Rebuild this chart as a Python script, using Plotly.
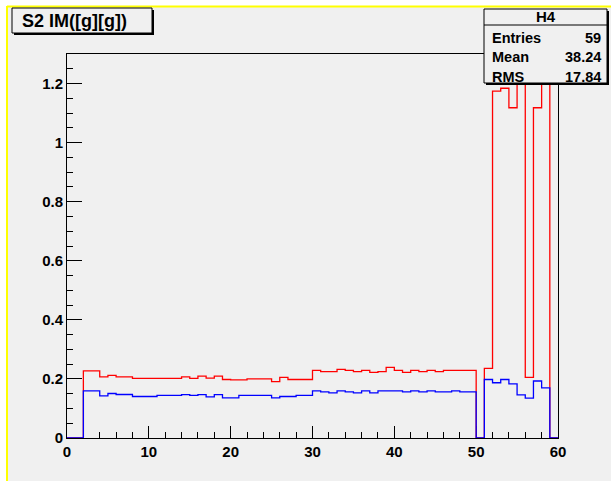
import numpy as np
import plotly.graph_objects as go

# ---- data (60 bins of width 1 on [0, 60]) ----
red_values = [
    0, 0, 0.227, 0.227, 0.207, 0.212, 0.207, 0.207, 0.2016, 0.2016,
    0.2016, 0.2016, 0.2016, 0.2016, 0.207, 0.2016, 0.2094, 0.2026, 0.2094, 0.198,
    0.197, 0.197, 0.200, 0.200, 0.200, 0.191, 0.205, 0.198, 0.198, 0.198,
    0.229, 0.225, 0.225, 0.232, 0.229, 0.225, 0.229, 0.222, 0.225, 0.239,
    0.229, 0.222, 0.229, 0.225, 0.229, 0.225, 0.229, 0.229, 0.229, 0.229,
    0, 0.2356, 1.174, 1.184, 1.118, 1.5, 0.205, 1.118, 1.5, 0,
]
blue_values = [
    0, 0, 0.1595, 0.1595, 0.1426, 0.1507, 0.1473, 0.1473, 0.1405, 0.1405,
    0.1405, 0.144, 0.144, 0.144, 0.147, 0.144, 0.147, 0.139, 0.147, 0.136,
    0.136, 0.144, 0.144, 0.144, 0.144, 0.136, 0.1405, 0.1405, 0.144, 0.144,
    0.1595, 0.156, 0.153, 0.1595, 0.156, 0.153, 0.1595, 0.153, 0.1595, 0.1595,
    0.1595, 0.156, 0.1595, 0.156, 0.1595, 0.156, 0.156, 0.1595, 0.156, 0.156,
    0, 0.198, 0.187, 0.198, 0.183, 0.146, 0.135, 0.193, 0.170, 0,
]
x_min, x_max = 0, 60
y_min, y_max = 0, 1.3
x_ticks = [0, 10, 20, 30, 40, 50, 60]
y_ticks = [0, 0.2, 0.4, 0.6, 0.8, 1.0, 1.2]
y_tick_text = ["0", "0.2", "0.4", "0.6", "0.8", "1", "1.2"]
title_text = "S2 IM([g][g])"
stats_name = "H4"
stats_labels = ["Entries", "Mean", "RMS"]
stats_values = ["59", "38.24", "17.84"]

W, H = 611, 481
L, R, T, B = 67, 558, 54, 438
BG = "#f0f0f0"
FONT = "Liberation Sans, Arial, Helvetica, sans-serif"


def px(x):
    return (x - L) / (R - L)


def py(y):
    return (B - y) / (B - T)


edges = np.arange(x_min, x_max + 1)

fig = go.Figure()
for vals, col in [(red_values, "#ff0000"), (blue_values, "#0000ff")]:
    yy = list(vals) + [vals[-1]]
    fig.add_trace(go.Scatter(x=edges, y=yy, mode="lines", line_shape="hv",
                             line=dict(color=col, width=1.3), showlegend=False,
                             hoverinfo="skip", cliponaxis=False if False else True))

shapes = []
# white outside the yellow border
shapes.append(dict(type="rect", xref="paper", yref="paper", x0=px(0), x1=px(W),
                   y0=py(0), y1=py(6), fillcolor="white", line_width=0, layer="above"))
shapes.append(dict(type="rect", xref="paper", yref="paper", x0=px(0), x1=px(6),
                   y0=py(0), y1=py(H), fillcolor="white", line_width=0, layer="above"))
# yellow border lines
shapes.append(dict(type="line", xref="paper", yref="paper", x0=px(7), x1=px(W),
                   y0=py(6.5), y1=py(6.5), line=dict(color="#ffff00", width=2), layer="above"))
shapes.append(dict(type="line", xref="paper", yref="paper", x0=px(7), x1=px(7),
                   y0=py(6), y1=py(H), line=dict(color="#ffff00", width=2), layer="above"))


def box(x0, y0, x1, y1):
    # shadow
    shapes.append(dict(type="rect", xref="paper", yref="paper", x0=px(x0 + 2), x1=px(x1 + 2),
                       y0=py(y0 + 2), y1=py(y1 + 2), fillcolor="black", line_width=0, layer="above"))
    shapes.append(dict(type="rect", xref="paper", yref="paper", x0=px(x0), x1=px(x1),
                       y0=py(y0), y1=py(y1), fillcolor=BG, line=dict(color="black", width=1),
                       layer="above"))


box(12, 8, 152, 33)
box(484, 9, 607, 83)
shapes.append(dict(type="line", xref="paper", yref="paper", x0=px(484), x1=px(607),
                   y0=py(25), y1=py(25), line=dict(color="black", width=1), layer="above"))

annotations = []


def text(t, x, y, anchor, size, weight="bold"):
    annotations.append(dict(text=t, xref="paper", yref="paper", x=px(x), y=py(y),
                            xanchor=anchor, yanchor="middle", showarrow=False,
                            font=dict(family=FONT, size=size, color="black", weight=weight)))


text(title_text, 20, 21, "left", 18)
text(stats_name, 546, 17, "center", 15)
for i, (lab, val) in enumerate(zip(stats_labels, stats_values)):
    yy = 37.5 + 19.7 * i
    text(lab, 490, yy, "left", 14.5)
    text(val, 603, yy, "right", 14.5)

fig.update_layout(
    width=W, height=H,
    margin=dict(l=L, r=W - R, t=T, b=H - B, pad=0),
    paper_bgcolor=BG, plot_bgcolor=BG,
    shapes=shapes, annotations=annotations,
    xaxis=dict(range=[x_min, x_max], tickvals=x_ticks, ticks="inside", ticklen=12,
               tickcolor="black", tickwidth=1, showgrid=False, zeroline=False,
               showline=True, mirror=True, linecolor="black", linewidth=1,
               layer="below traces",
               tickfont=dict(family=FONT, size=15, color="black", weight="bold"),
               minor=dict(dtick=2, ticks="inside", ticklen=6, tickcolor="black", showgrid=False)),
    yaxis=dict(range=[y_min, y_max], tickvals=y_ticks, ticktext=y_tick_text, ticks="inside",
               ticklen=15, tickcolor="black", tickwidth=1, showgrid=False, zeroline=False,
               showline=True, mirror=True, linecolor="black", linewidth=1,
               layer="below traces",
               tickfont=dict(family=FONT, size=15, color="black", weight="bold"),
               minor=dict(dtick=0.05, ticks="inside", ticklen=6, tickcolor="black", showgrid=False)),
)

fig.write_html("out.html")
